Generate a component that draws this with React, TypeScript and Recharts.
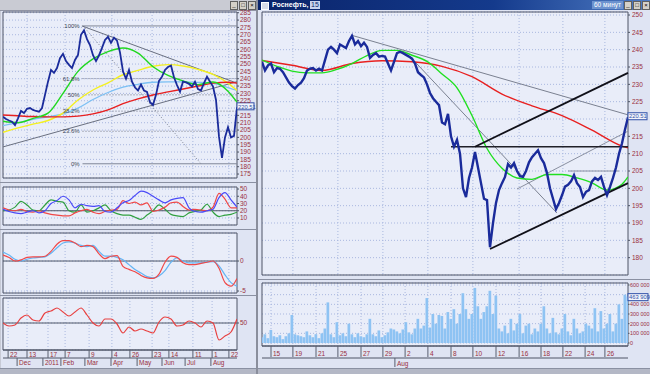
import React from "react";
import {
  Bar,
  CartesianGrid,
  ComposedChart,
  Line,
  ReferenceArea,
  ReferenceDot,
  ReferenceLine,
  XAxis,
  YAxis,
} from "recharts";

const FONT = "'Liberation Sans', Arial, sans-serif";
const AXIS = "#9a3040";
const GRID = "#a9b7df";
const PLOT_BG = "#e9edf9";
const FRAME = "#4e5566";

// ---- left window: daily, Nov 2010 .. Aug 2011 (index step = 1 bar slot) ----
const dailyClose = [
  214, 212.5, 211.5, 210.7, 208.4, 213, 218, 216.6, 219.5, 220, 218.7, 218, 217.5, 220, 229, 238,
  246, 244, 247.3, 254, 257, 252, 249.5, 247.3, 252.8, 256.2, 270, 273, 267, 263, 256, 252, 256,
  261, 266.4, 268.6, 264.5, 268, 266, 258, 245, 240, 246, 238, 234, 232, 236, 232, 231, 224, 222,
  229, 238.5, 241.4, 246, 248, 249, 241, 235.7, 231.2, 238, 237.5, 236.5, 234.6, 238, 233, 232,
  237, 241.4, 238, 234.6, 225.5, 200.5, 186, 200, 207, 200, 201, 220.5,
];
const dailyLast = 220.51;
const dailyMaIdx = [0, 5, 10, 15, 20, 25, 30, 35, 40, 45, 50, 55, 60, 65, 70, 75, 78];
const dailyMaGreen = [211, 210, 213, 216.5, 230, 245, 253.5, 258.5, 261, 257.5, 248.2, 242.3, 238.5, 236, 237.8, 231.5, 224];
const dailyMaYellow = [203.5, 206.5, 209, 211.5, 216.5, 225.5, 232.3, 237.2, 242.7, 245.7, 248.5, 249.6, 248.7, 246.4, 243, 237, 232];
const dailyMaBlue = [208, 210, 212.3, 214, 216, 220, 225.8, 230.6, 234.2, 236.2, 237.6, 237.9, 237.8, 237.5, 236.8, 234, 232];
const dailyMaRed = [215.3, 214.7, 214.2, 214, 214, 214.5, 216, 218.8, 223, 226.3, 228.9, 231, 233, 235, 237, 237.6, 237];
const dailyPriceTicks = [175, 180, 185, 190, 195, 200, 205, 210, 215, 220, 225, 230, 235, 240, 245, 250, 255, 260, 265, 270, 275, 280, 285];
const fibLevels = [276, 240.1, 229, 217.9, 204.2, 182];
const fibLabels = ["100%", "61.8%", "50%", "38.2%", "23.6%", "0%"];

// indicators, one value every 2 slots
const adxBlue = [22, 19, 17, 16, 18, 20, 17, 20, 30, 34, 40, 35, 24, 29, 27, 26, 27, 19, 18, 24, 31, 34, 41, 47, 45, 40, 35, 31, 35, 37, 38, 24, 19, 18, 20, 22, 38, 45, 35, 25];
const adxRed = [24, 21, 20, 22, 19, 18, 20, 17, 15, 14, 13, 13, 17, 20, 22, 18, 16, 19, 21, 22, 34, 30, 32, 28, 31, 19, 21, 25, 31, 32, 26, 21, 22, 21, 20, 25, 44, 36, 24, 24];
const adxGreen = [20, 21, 25, 33, 28, 21, 20, 28, 35, 33, 32, 20, 18, 28, 18, 20, 24, 28, 20, 16, 14, 14, 11, 8, 14, 20, 28, 22, 15, 13, 12, 17, 19, 21, 29, 18, 12, 14, 15, 18];
const macdRed = [1.0, 0.6, 0.0, 0.2, 0.6, 0.7, 0.7, 0.8, 1.6, 2.8, 3.4, 3.4, 3.0, 2.4, 2.6, 2.4, 1.2, 0.4, 0.8, 0.9, -0.9, -1.4, -1.8, -2.4, -2.8, -2.9, -2.2, -0.2, 0.8, 0.6, -0.3, -0.6, -0.6, -0.4, -0.2, 0.0, -1.2, -3.6, -4.2, -2.9];
const macdBlue = [1.5, 1.0, 0.3, 0.0, 0.3, 0.5, 0.6, 0.7, 1.3, 2.2, 3.0, 3.2, 3.0, 2.6, 2.4, 2.6, 1.6, 0.8, 0.8, 0.6, 0.2, -0.6, -1.4, -2.0, -2.6, -2.8, -2.5, -1.6, -0.2, 0.5, 0.0, -0.3, -0.3, -0.3, -0.2, -0.1, -0.8, -2.3, -3.6, -4.2];
const rsiRed = [50, 47, 48, 55, 58, 53, 52, 60, 62, 65, 61, 57, 61, 65, 58, 50, 47, 54, 54, 49, 40, 46, 42, 44, 42, 40, 51, 56, 54, 47, 48, 52, 50, 46, 52, 50, 33, 37, 41, 54];

const dailyDayPos = [1.7, 8, 15, 20.7, 28.7, 36.3, 42.3, 49.7, 55.3, 63.3, 69.7, 75.3];
const dailyDayLabels = ["22", "13", "17", "7", "9", "4", "26", "23", "14", "11", "1", "22"];
const dailyMonthPos = [4.7, 13.3, 19.3, 27.3, 36, 44.7, 53, 60.7, 69.3];
const dailyMonthLabels = ["Dec", "2011", "Feb", "Mar", "Apr", "May", "Jun", "Jul", "Aug"];

// ---- right window: 60 min, mid Jul .. 26 Aug ----
const hourlyClose = [
  236.5, 234, 235.5, 236, 233.5, 234.7, 234.5, 233.5, 232, 230.5, 229.5, 228.8, 229.8, 230.5, 231.8,
  234, 234.5, 234.7, 234, 234.5, 234, 237, 240, 240.8, 240, 239, 241.5, 241, 240.5, 242.5, 244,
  241.5, 242.5, 241, 242, 240.8, 237.6, 238.5, 239, 238, 238.2, 238, 236, 234, 236.5, 239, 239.4,
  239, 238.5, 238, 237.4, 236, 233.5, 232.7, 232, 230, 227.5, 226, 225, 224, 219, 218.5, 221.5,
  215, 212, 214, 210, 200, 197.5, 203, 206, 210.5, 206, 201.5, 197, 196.6, 183, 190, 195.8, 199.5,
  201.5, 203.3, 207, 206, 207.3, 205, 203.5, 203.3, 205, 207.5, 209, 210, 211, 208.7, 207.3, 204.4,
  200, 197, 194, 195.8, 198, 200.5, 201, 202, 203.8, 201.5, 200.4, 197.5, 199, 199.5, 202, 203,
  202.4, 203.3, 200.4, 198, 200.4, 203, 206, 210, 213, 217, 220.5,
];
const hourlyLast = 220.51;
const hourlyGreenIdx = [0, 5, 10, 15, 20, 25, 30, 35, 40, 45, 50, 55, 60, 65, 70, 75, 80, 85, 90, 95, 100, 105, 110, 115, 120, 122];
const hourlyMaGreen = [237, 235.2, 233.8, 233.3, 233.3, 234.3, 236, 238.3, 239.8, 239.8, 238.4, 236.6, 233, 229, 221, 211.5, 205.8, 203, 202.6, 204, 204, 203, 201.6, 199.5, 201.2, 203.3];
const hourlyRedIdx = [0, 10, 20, 30, 40, 50, 60, 70, 80, 90, 100, 110, 120, 122];
const hourlyMaRed = [236.9, 235.5, 234, 236, 236.8, 236.5, 235.2, 232.2, 227.2, 223.8, 221, 216.8, 212.2, 211.7];
// volume in thousands
const hourlyVolume = [
  60, 90, 50, 135, 70, 60, 80, 40, 70, 100, 290, 90, 80,
  70, 60, 120, 80, 60, 90, 50, 100, 150, 420, 90, 60, 215,
  80, 100, 70, 200, 90, 60, 100, 70, 60, 90, 250, 90, 70, 130, 60, 80, 110, 150, 140, 120,
  100, 140, 215, 110, 90, 150, 250, 150, 180, 465, 160, 300, 200,
  290, 280, 150, 320, 250, 350, 200, 300, 515, 350, 250, 300, 570, 380, 250, 320, 380, 540, 300, 490,
  150, 120, 180, 100, 250, 130, 200, 300, 100, 180, 200, 90, 150, 120, 200, 380, 150, 100, 260, 110, 90,
  150, 300, 120, 80, 250, 150, 100, 120, 200, 180, 150, 360, 120,
  330, 150, 200, 300, 120, 200, 400, 250, 500, 480,
];
const volumeLast = 463.909;
const hourlyPriceTicks = [180, 185, 190, 195, 200, 205, 210, 215, 220, 225, 230, 235, 240, 245, 250];
const volumeTicks = [0, 100, 200, 300, 400, 500, 600];
const hourlyDayPos = [3, 10.3, 18, 25.3, 33, 40.3, 47.7, 55.3, 63, 70.3, 78, 85.7, 93, 100.3, 107.7, 114.3];
const hourlyDayLabels = ["15", "19", "21", "25", "27", "29", "2", "4", "8", "10", "12", "16", "18", "22", "24", "26"];
const hourlyMonthPos = [44.3];
const hourlyMonthLabels = ["Aug"];

const series = (idx: number[], vals: number[]) => vals.map((v, k) => ({ i: idx[k], v }));
const seq = (vals: number[], step = 1) => vals.map((v, k) => ({ i: k * step, v }));
const blank = (idx: number[]) => idx.map((i) => ({ i, v: null }));
// the last-value box covers the axis label it sits on
const hideNear = (last: number, gap: number) => (v: number) => (Math.abs(v - last) < gap ? "" : String(v));

const yTick = { fontSize: 6.5, fill: AXIS, fontFamily: FONT };
const noMargin = { top: 0, right: 0, bottom: 0, left: 0 };

function DateTick(props: any) {
  const { x, y, payload, pos, labels, h } = props;
  const k = pos.indexOf(payload.value);
  return (
    <g>
      <line x1={x} x2={x} y1={y} y2={y + h} stroke="#5a6070" />
      <text x={x + 2} y={y + h - 1.5} fontSize={6.5} fill={AXIS} fontFamily={FONT}>
        {labels[k]}
      </text>
    </g>
  );
}

function ValueBox(props: any) {
  const { viewBox, text, w } = props;
  const x = viewBox.x + 1;
  const y = viewBox.y;
  return (
    <g>
      <rect x={x} y={y - 3.5} width={w} height={7} fill="#f2f4fb" stroke="#3050a8" />
      <text x={x + 1} y={y + 2.2} fontSize={5.8} fill="#3050a8" fontFamily={FONT}>
        {text}
      </text>
    </g>
  );
}

function DailyPrice() {
  return (
    <ComposedChart width={254} height={166} margin={noMargin}>
      <CartesianGrid fill={PLOT_BG} stroke={GRID} strokeDasharray="1 2" verticalValues={dailyDayPos} />
      <XAxis type="number" dataKey="i" domain={[0, 78]} ticks={dailyDayPos} allowDataOverflow hide />
      <YAxis
        orientation="right"
        width={20}
        domain={[172.3, 285.5]}
        ticks={dailyPriceTicks}
        interval={0}
        allowDataOverflow
        tick={yTick}
        tickFormatter={hideNear(dailyLast, 2.6)}
        tickSize={2}
        tickMargin={1}
        axisLine={false}
        tickLine={{ stroke: FRAME }}
      />
      <ReferenceArea x1={0} x2={78} y1={172.3} y2={285.5} fill="none" stroke={FRAME} ifOverflow="visible" />
      {fibLevels.map((lv, k) => (
        <ReferenceLine
          key={lv}
          segment={[{ x: 26.5, y: lv }, { x: 78, y: lv }]}
          stroke={k === 0 || k === fibLevels.length - 1 ? "#808898" : "#6a7080"}
          strokeDasharray={k === 0 || k === fibLevels.length - 1 ? undefined : "1 2"}
        />
      ))}
      {fibLevels.map((lv, k) => (
        <ReferenceDot
          key={"l" + lv}
          x={25.9}
          y={lv}
          r={1}
          fill="none"
          stroke="none"
          label={{ value: fibLabels[k], position: "left", offset: 0, fontSize: 6, fill: "#404858", fontFamily: FONT }}
        />
      ))}
      <ReferenceLine segment={[{ x: 26.7, y: 276 }, { x: 66, y: 182 }]} stroke="#7a8090" strokeDasharray="1 2" />
      <ReferenceLine segment={[{ x: 26.3, y: 276 }, { x: 78, y: 237 }]} stroke="#6a7080" />
      <ReferenceLine segment={[{ x: 0, y: 193.5 }, { x: 78, y: 238 }]} stroke="#6a7080" />
      <Line data={series(dailyMaIdx, dailyMaBlue)} dataKey="v" type="monotone" stroke="#7cc0f4" strokeWidth={1.3} dot={false} isAnimationActive={false} />
      <Line data={series(dailyMaIdx, dailyMaYellow)} dataKey="v" type="monotone" stroke="#f4f020" strokeWidth={1.4} dot={false} isAnimationActive={false} />
      <Line data={series(dailyMaIdx, dailyMaRed)} dataKey="v" type="monotone" stroke="#e82020" strokeWidth={1.4} dot={false} isAnimationActive={false} />
      <Line data={series(dailyMaIdx, dailyMaGreen)} dataKey="v" type="monotone" stroke="#20d820" strokeWidth={1.4} dot={false} isAnimationActive={false} />
      <Line data={seq(dailyClose)} dataKey="v" type="linear" stroke="#1a2b9b" strokeWidth={1.8} dot={false} isAnimationActive={false} />
      <ReferenceDot x={78} y={dailyLast} r={1} fill="none" stroke="none" ifOverflow="visible" label={(p: any) => <ValueBox {...p} text={dailyLast.toFixed(2)} w={17} />} />
    </ComposedChart>
  );
}

function IndicatorPanel({
  height,
  domain,
  ticks,
  level,
  lines,
  withDates,
}: {
  height: number;
  domain: [number, number];
  ticks: number[];
  level: number;
  lines: { vals: number[]; color: string }[];
  withDates?: boolean;
}) {
  return (
    <ComposedChart width={254} height={height + (withDates ? 16 : 0)} margin={noMargin}>
      <CartesianGrid fill={PLOT_BG} stroke={GRID} strokeDasharray="1 2" verticalValues={dailyDayPos} />
      {withDates ? (
        <XAxis
          type="number"
          dataKey="i"
          domain={[0, 78]}
          ticks={dailyDayPos}
          interval={0}
          allowDataOverflow
          height={8}
          tickSize={0}
          tickMargin={0}
          axisLine={{ stroke: FRAME }}
          tick={(p: any) => <DateTick {...p} pos={dailyDayPos} labels={dailyDayLabels} h={8} />}
        />
      ) : (
        <XAxis type="number" dataKey="i" domain={[0, 78]} ticks={dailyDayPos} allowDataOverflow hide />
      )}
      {withDates && (
        <XAxis
          xAxisId="m"
          dataKey="i"
          type="number"
          domain={[0, 78]}
          ticks={dailyMonthPos}
          interval={0}
          allowDataOverflow
          height={8}
          tickSize={0}
          tickMargin={0}
          axisLine={{ stroke: FRAME }}
          tick={(p: any) => <DateTick {...p} pos={dailyMonthPos} labels={dailyMonthLabels} h={8} />}
        />
      )}
      {withDates && (
        <Line xAxisId="m" data={blank(dailyMonthPos)} dataKey="v" stroke="none" dot={false} isAnimationActive={false} />
      )}
      <YAxis
        orientation="right"
        width={20}
        domain={domain}
        ticks={ticks}
        interval={0}
        allowDataOverflow
        tick={yTick}
        tickSize={2}
        tickMargin={1}
        axisLine={false}
        tickLine={{ stroke: FRAME }}
      />
      <ReferenceArea x1={0} x2={78} y1={domain[0]} y2={domain[1]} fill="none" stroke={FRAME} ifOverflow="visible" />
      <ReferenceLine y={level} stroke="#505868" />
      {lines.map((l, k) => (
        <Line key={k} data={seq(l.vals, 2)} dataKey="v" type="monotone" stroke={l.color} strokeWidth={1.2} dot={false} isAnimationActive={false} />
      ))}
    </ComposedChart>
  );
}

function HourlyPrice() {
  return (
    <ComposedChart width={388} height={263} margin={noMargin}>
      <CartesianGrid fill={PLOT_BG} stroke={GRID} strokeDasharray="1 2" verticalValues={hourlyDayPos} />
      <XAxis type="number" dataKey="i" domain={[0, 122]} ticks={hourlyDayPos} allowDataOverflow hide />
      <YAxis
        orientation="right"
        width={22}
        domain={[175, 250.87]}
        ticks={hourlyPriceTicks}
        interval={0}
        allowDataOverflow
        tick={yTick}
        tickFormatter={hideNear(hourlyLast, 2)}
        tickSize={2}
        tickMargin={2}
        axisLine={false}
        tickLine={{ stroke: FRAME }}
      />
      <ReferenceArea x1={0} x2={122} y1={175} y2={250.87} fill="none" stroke={FRAME} ifOverflow="visible" />
      <ReferenceLine segment={[{ x: 29.7, y: 244.2 }, { x: 122, y: 221.2 }]} stroke="#7a8090" />
      <ReferenceLine segment={[{ x: 51, y: 236.5 }, { x: 98.3, y: 192.9 }]} stroke="#7a8090" />
      <ReferenceLine segment={[{ x: 85, y: 199.8 }, { x: 122, y: 216.5 }]} stroke="#8a90a0" />
      <ReferenceLine segment={[{ x: 102, y: 205 }, { x: 119, y: 205 }]} stroke="#8a90a0" />
      <Line data={series(hourlyRedIdx, hourlyMaRed)} dataKey="v" type="monotone" stroke="#e82020" strokeWidth={1.4} dot={false} isAnimationActive={false} />
      <Line data={series(hourlyGreenIdx, hourlyMaGreen)} dataKey="v" type="monotone" stroke="#20e020" strokeWidth={1.4} dot={false} isAnimationActive={false} />
      <ReferenceLine segment={[{ x: 63, y: 212 }, { x: 122, y: 212 }]} stroke="#202028" strokeWidth={1.5} />
      <ReferenceLine segment={[{ x: 71, y: 212 }, { x: 122, y: 233.3 }]} stroke="#101018" strokeWidth={1.8} />
      <ReferenceLine segment={[{ x: 76, y: 182.5 }, { x: 122, y: 201.5 }]} stroke="#101018" strokeWidth={1.8} />
      <Line data={seq(hourlyClose)} dataKey="v" type="linear" stroke="#1a2b9b" strokeWidth={2.4} dot={false} isAnimationActive={false} />
      <ReferenceDot x={122} y={hourlyLast} r={1} fill="none" stroke="none" ifOverflow="visible" label={(p: any) => <ValueBox {...p} text={hourlyLast.toFixed(2)} w={19} />} />
    </ComposedChart>
  );
}

function HourlyVolume() {
  return (
    <ComposedChart width={388} height={85} margin={noMargin} data={seq(hourlyVolume)}>
      <CartesianGrid fill={PLOT_BG} stroke={GRID} strokeDasharray="1 2" verticalValues={hourlyDayPos} />
      <XAxis
        type="number"
        dataKey="i"
        domain={[0, 122]}
        ticks={hourlyDayPos}
        interval={0}
        allowDataOverflow
        height={12}
        tickSize={0}
        tickMargin={0}
        axisLine={{ stroke: FRAME }}
        tick={(p: any) => <DateTick {...p} pos={hourlyDayPos} labels={hourlyDayLabels} h={11} />}
      />
      <XAxis
        xAxisId="m"
        dataKey="i"
        type="number"
        domain={[0, 122]}
        ticks={hourlyMonthPos}
        interval={0}
        allowDataOverflow
        height={10}
        tickSize={0}
        tickMargin={0}
        axisLine={{ stroke: FRAME }}
        tick={(p: any) => <DateTick {...p} pos={hourlyMonthPos} labels={hourlyMonthLabels} h={9} />}
      />
      <Line xAxisId="m" data={blank(hourlyMonthPos)} dataKey="v" stroke="none" dot={false} isAnimationActive={false} />
      <YAxis
        orientation="right"
        width={22}
        domain={[-31, 620.7]}
        ticks={volumeTicks}
        interval={0}
        allowDataOverflow
        tick={{ ...yTick, fontSize: 5.4 }}
        tickFormatter={(v: number) => (v === 0 ? "0" : Math.abs(v - volumeLast) < 50 ? "" : `${v}\u00a0000`)}
        tickSize={1.5}
        tickMargin={0.5}
        axisLine={false}
        tickLine={{ stroke: FRAME }}
      />
      <ReferenceArea x1={0} x2={122} y1={-31} y2={620.7} fill="none" stroke={FRAME} ifOverflow="visible" />
      <Bar dataKey="v" fill="#8ec3f3" barSize={3} isAnimationActive={false} />
      <ReferenceDot
        x={122}
        y={volumeLast}
        r={1}
        fill="none"
        stroke="none"
        ifOverflow="visible"
        label={(p: any) => <ValueBox {...p} text={"463\u00a0909"} w={20} />}
      />
    </ComposedChart>
  );
}

const abs = (left: number, top: number, extra: React.CSSProperties = {}): React.CSSProperties => ({
  position: "absolute",
  left,
  top,
  ...extra,
});

function Buttons({ left }: { left: number }) {
  return (
    <div style={abs(left, 1, { display: "flex", gap: 1 })}>
      {["_", "□", "×"].map((b) => (
        <div
          key={b}
          style={{
            width: 6,
            height: 7,
            background: "#d4d0c8",
            border: "1px solid #606060",
            fontSize: 6,
            lineHeight: "6px",
            textAlign: "center",
            color: "#000",
          }}
        >
          {b}
        </div>
      ))}
    </div>
  );
}

export default function App() {
  return (
    <div style={abs(0, 0, { width: 650, height: 374, background: "#c7cad6", overflow: "hidden", fontFamily: FONT })}>
      <style>{"svg.recharts-surface{overflow:visible}"}</style>
      {/* left window */}
      <div style={abs(0, 0, { width: 256, height: 10, background: "#c9cbd3", borderBottom: "1px solid #9094a4" })} />
      <Buttons left={230} />
      <div style={abs(1, 11, { width: 255, height: 357, background: "#dfe4f3" })} />
      {[182, 229, 295].map((y) => (
        <div key={y} style={abs(0, y, { width: 257, height: 1, background: "#8a90a2" })} />
      ))}
      <div style={abs(3, 12)}>
        <DailyPrice />
      </div>
      <div style={abs(3, 187)}>
        <IndicatorPanel
          height={38}
          domain={[0.3, 52.8]}
          ticks={[10, 20, 30, 40, 50]}
          level={20}
          lines={[
            { vals: adxGreen, color: "#30a040" },
            { vals: adxRed, color: "#f04848" },
            { vals: adxBlue, color: "#4a4af8" },
          ]}
        />
      </div>
      <div style={abs(3, 233)}>
        <IndicatorPanel
          height={60}
          domain={[-5.33, 4.67]}
          ticks={[-5, 0]}
          level={0}
          lines={[
            { vals: macdBlue, color: "#64b4f4" },
            { vals: macdRed, color: "#f04848" },
          ]}
        />
      </div>
      <div style={abs(3, 298)}>
        <IndicatorPanel height={52} domain={[23, 75]} ticks={[50]} level={50} lines={[{ vals: rsiRed, color: "#e84040" }]} withDates />
      </div>
      <div style={abs(0, 368, { width: 257, height: 6, background: "#b4b8c6", borderTop: "1px solid #8a90a2" })} />

      {/* right window */}
      <div style={abs(256, 0, { width: 2, height: 374, background: "#8a8e9c" })} />
      <div
        style={abs(258, 0, {
          width: 392,
          height: 10,
          background: "linear-gradient(90deg, #0a246a 0%, #143a8c 60%, #4f7cc4 100%)",
        })}
      />
      <div style={abs(261, 2, { width: 6, height: 6, background: "#d8dce8", border: "1px solid #fff" })} />
      <div style={abs(272, 0, { fontSize: 7, lineHeight: "10px", color: "#fff", fontWeight: 700 })}>Роснефть,</div>
      <div style={abs(310, 1, { fontSize: 7, lineHeight: "8px", color: "#0a246a", background: "#c8d4ee", padding: "0 1px" })}>15</div>
      <div style={abs(592, 1, { fontSize: 6.5, lineHeight: "8px", color: "#fff", background: "#6d93cf", padding: "0 2px", whiteSpace: "nowrap" })}>60 минут</div>
      <Buttons left={624} />
      <div style={abs(258, 10, { width: 392, height: 358, background: "#dfe4f3" })} />
      <div style={abs(258, 279, { width: 392, height: 1, background: "#8a90a2" })} />
      <div style={abs(262, 12)}>
        <HourlyPrice />
      </div>
      <div style={abs(262, 283)}>
        <HourlyVolume />
      </div>
      <div style={abs(258, 368, { width: 392, height: 6, background: "#b4b8c6", borderTop: "1px solid #8a90a2" })} />
    </div>
  );
}
